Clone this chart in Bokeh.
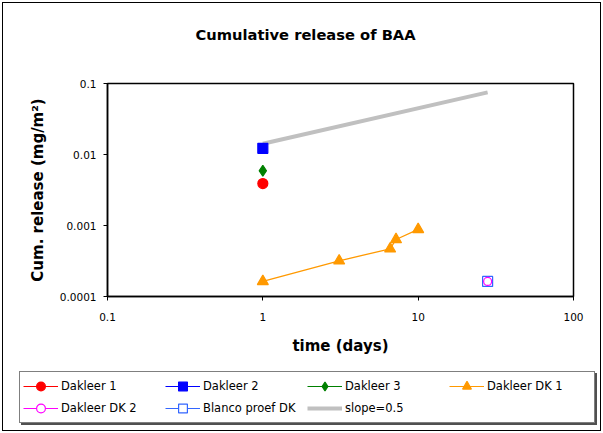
from bokeh.plotting import figure
from bokeh.models import Legend, LegendItem, FixedTicker, Title
from bokeh.layouts import column
from bokeh.embed import file_html
from bokeh.resources import INLINE

title_text = "Cumulative release of BAA"
x_label = "time (days)"
y_label = "Cum. release (mg/m²)"
x_ticks = [0.1, 1, 10, 100]
x_tick_labels = ["0.1", "1", "10", "100"]
y_ticks = [0.0001, 0.001, 0.01, 0.1]
y_tick_labels = ["0.0001", "0.001", "0.01", "0.1"]

d1_t = [1]
d1_v = [0.0039]
d2_t = [1]
d2_v = [0.0122]
d3_t = [1]
d3_v = [0.0059]
dk1_t = [1, 3.1, 6.6, 7.2, 10]
dk1_v = [0.000163, 0.000318, 0.00047, 0.000635, 0.00088]
dk2_t = [28]
dk2_v = [0.000163]
blanco_t = [28]
blanco_v = [0.000163]
slope_t = [1, 28]
slope_v = [0.0142, 0.075]

legend_labels = ["Dakleer 1", "Dakleer 2", "Dakleer 3", "Dakleer DK 1",
                 "Dakleer DK 2", "Blanco proef DK", "slope=0.5"]

FONT = "DejaVu Sans"

STY = {
    "d1": dict(color="#FF0000", marker="circle", size=10, fill="#FF0000"),
    "d2": dict(color="#0000FF", marker="square", size=10, fill="#0000FF"),
    "d3": dict(color="#008000", marker="diamond", size=11, fill="#008000"),
    "dk1": dict(color="#FF9900", marker="triangle", size=11, fill="#FF9900"),
    "dk2": dict(color="#FF00FF", marker="circle", size=8, fill="white"),
    "bl": dict(color="#3366FF", marker="square", size=10, fill="white"),
}
SERIES = {"d1": (d1_t, d1_v), "d2": (d2_t, d2_v), "d3": (d3_t, d3_v),
          "dk1": (dk1_t, dk1_v), "dk2": (dk2_t, dk2_v), "bl": (blanco_t, blanco_v)}

p = figure(width=603, height=360, x_axis_type="log", y_axis_type="log",
           x_range=(0.1, 100), y_range=(0.0001, 0.1), title=None,
           output_backend="svg", toolbar_location=None,
           min_border_left=107, min_border_right=30,
           min_border_top=83, min_border_bottom=64,
           background_fill_color="white", border_fill_color=None)
p.frame_align = False

p.add_layout(Title(text=" ", text_font=FONT, text_font_size="20.5px"), "above")
p.add_layout(Title(text=title_text, align="left", offset=88,
                   text_font=FONT, text_font_size="14.7px", text_font_style="bold",
                   text_color="black"), "above")

p.xgrid.visible = False
p.ygrid.visible = False
p.outline_line_color = "black"
p.outline_line_width = 1.5

p.xaxis.ticker = FixedTicker(ticks=x_ticks)
p.yaxis.ticker = FixedTicker(ticks=y_ticks)
p.xaxis.major_label_overrides = dict(zip(x_ticks, x_tick_labels))
p.yaxis.major_label_overrides = dict(zip(y_ticks, y_tick_labels))
for ax in (p.xaxis, p.yaxis):
    ax.minor_tick_line_color = None
    ax.major_tick_in = 0
    ax.major_tick_out = 4
    ax.axis_line_width = 1.5
    ax.axis_line_color = "black"
    ax.major_tick_line_color = "black"
    ax.major_label_text_font = FONT
    ax.major_label_text_font_size = "10.5px"
    ax.major_label_text_color = "black"
    ax.axis_label_text_font = FONT
    ax.axis_label_text_font_size = "15px"
    ax.axis_label_text_font_style = "bold"
    ax.axis_label_text_color = "black"
p.xaxis.axis_label = x_label
p.yaxis.axis_label = y_label
p.xaxis.major_label_standoff = 12
p.yaxis.major_label_standoff = 7
p.xaxis.axis_label_standoff = 13
p.yaxis.axis_label_standoff = 10


def pts(fig, key, lw=1.2):
    s = STY[key]
    t, v = SERIES[key]
    return fig.scatter(t, v, marker=s["marker"], size=s["size"], fill_color=s["fill"],
                       line_color=s["color"], line_width=lw)


pts(p, "d1")
pts(p, "d3")
p.line(slope_t, slope_v, line_color="#C0C0C0", line_width=4)
pts(p, "d2")
p.line(dk1_t, dk1_v, line_color=STY["dk1"]["color"], line_width=1.3)
pts(p, "dk1")
pts(p, "bl")
pts(p, "dk2")

# legend panel: same series drawn again, but outside its (off-data) view
q = figure(width=603, height=73, x_range=(-3, -2), y_range=(-3, -2),
           x_axis_location=None, y_axis_location=None,
           output_backend="svg", toolbar_location=None,
           min_border=0, min_border_left=0, min_border_right=0,
           min_border_top=0, min_border_bottom=0,
           background_fill_color=None, border_fill_color=None)
q.frame_align = False
q.grid.visible = False
q.outline_line_color = None

proxies = []
for key in ["d1", "d2", "d3", "dk1", "dk2", "bl"]:
    s = STY[key]
    t, v = SERIES[key]
    lr = q.line(t, v, line_color=s["color"], line_width=1)
    sr = pts(q, key)
    proxies.append([lr, sr])
proxies.append([q.line(slope_t, slope_v, line_color="#C0C0C0", line_width=4)])

LEG = dict(orientation="horizontal", ncols=4,
           glyph_width=35, glyph_height=22, label_standoff=3, label_width=104,
           spacing=0, padding=3, margin=0,
           label_text_font=FONT, label_text_font_size="11.5px", click_policy="none")

# shadow box behind the legend (blank labels, same minimum label width)
shadow = Legend(items=[LegendItem(label=" ", renderers=r) for r in proxies],
                location=(21, 8), border_line_color="#505050", border_line_width=1,
                background_fill_color="#505050", background_fill_alpha=1,
                label_text_color="#505050", **LEG)
q.add_layout(shadow, "center")

legend = Legend(items=[LegendItem(label=lab, renderers=r) for lab, r in zip(legend_labels, proxies)],
                location=(19, 10),
                border_line_color="black", border_line_width=1.2,
                background_fill_color="white", background_fill_alpha=1,
                label_text_color="black", **LEG)
q.add_layout(legend, "center")

layout = column(p, q, spacing=0)
layout.styles = {"outline": "1.5px solid black", "outline-offset": "-3px",
                 "background-color": "white"}

open("out.html", "w").write(file_html(layout, INLINE))
